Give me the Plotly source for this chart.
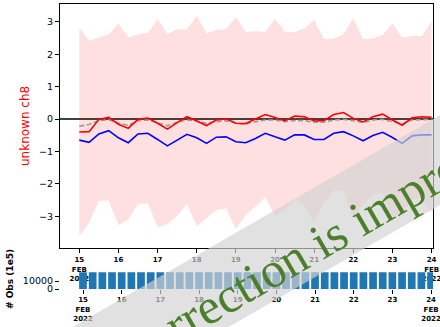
import math
import pandas as pd
import plotly.graph_objects as go

# 6-hourly analysis times, 15-24 Feb 2022
times = pd.date_range("2022-02-15", "2022-02-24", freq="6h")

# Bias statistics for channel 8 (K)
spread_upper = [2.82, 2.42, 2.52, 2.61, 2.95, 2.52, 2.61, 2.66, 3.08, 2.63,
                2.77, 2.77, 3.19, 2.65, 2.75, 2.78, 3.13, 2.69, 2.71, 2.69,
                3.09, 2.69, 2.68, 2.80, 3.06, 2.47, 2.48, 2.62, 3.11, 2.46,
                2.49, 2.59, 2.95, 2.51, 2.57, 2.56, 3.00]
spread_lower = [-3.62, -3.20, -2.54, -2.51, -3.27, -3.10, -2.63, -2.60, -3.34, -3.25,
                -2.99, -2.63, -3.31, -3.05, -2.81, -2.76, -3.39, -2.97, -2.71, -2.41,
                -2.99, -2.81, -2.50, -2.66, -3.18, -2.57, -2.20, -2.22, -3.07, -2.64,
                -2.35, -2.29, -3.01, -2.89, -2.49, -2.42, -2.90]
omb_mean = [-0.40, -0.39, -0.01, 0.05, -0.16, -0.29, -0.01, 0.03, -0.13, -0.31,
            -0.11, 0.07, -0.06, -0.20, -0.03, 0.01, -0.13, -0.14, 0.00, 0.14,
            0.05, -0.06, 0.09, 0.07, -0.06, -0.05, 0.14, 0.20, 0.02, -0.09,
            0.07, 0.15, -0.03, -0.19, 0.04, 0.07, 0.05]
oma_mean = [-0.22, -0.17, -0.05, -0.02, -0.12, -0.20, -0.05, -0.03, -0.11, -0.21,
            -0.10, -0.03, -0.06, -0.13, -0.08, -0.05, -0.13, -0.16, -0.08, -0.03,
            -0.03, -0.08, -0.05, -0.05, -0.10, -0.10, -0.03, -0.01, -0.05, -0.11,
            -0.03, -0.01, -0.08, -0.15, -0.03, -0.01, -0.01]
bias_corr = [-0.65, -0.72, -0.46, -0.36, -0.58, -0.73, -0.46, -0.44, -0.63, -0.83,
             -0.65, -0.47, -0.58, -0.75, -0.56, -0.55, -0.70, -0.73, -0.60, -0.44,
             -0.55, -0.65, -0.49, -0.49, -0.63, -0.63, -0.44, -0.39, -0.52, -0.67,
             -0.51, -0.41, -0.57, -0.75, -0.52, -0.49, -0.49]
obs_count = [20900, 20900, 20900, 20900, 20900, 20900, 20900, 20900, 20900, 20900,
             20900, 20900, 20900, 20900, 20900, 20900, 20900, 20900, 20900, 20900,
             20900, 20900, 20900, 20900, 20900, 20900, 20900, 20900, 20900, 20900,
             20900, 20900, 20900, 20900, 20900, 20900, 20900]

day_ticks = pd.date_range("2022-02-15", "2022-02-24", freq="D")
day_labels = ["15<br>FEB<br>2022", "16", "17", "18", "19", "20", "21", "22", "23",
              "24<br>FEB<br>2022"]

W, H = 440, 327
FONT = "DejaVu Sans"
t0 = pd.Timestamp("2022-02-15")


def px(x, y):
    """Pixel position -> paper coordinates."""
    return x / W, 1 - y / H


def day_offset(d):
    return str(t0 + pd.Timedelta(days=d))


fig = go.Figure()

fig.add_trace(go.Scatter(x=times, y=spread_upper, mode="lines",
                         line=dict(width=0), hoverinfo="skip", showlegend=False))
fig.add_trace(go.Scatter(x=times, y=spread_lower, mode="lines",
                         line=dict(width=0), fill="tonexty",
                         fillcolor="rgba(255,0,0,0.12)", hoverinfo="skip",
                         showlegend=False))
fig.add_trace(go.Scatter(x=times, y=oma_mean, mode="lines",
                         line=dict(color="#9a9a9a", width=1.6, dash="5px,2.5px"),
                         showlegend=False))
fig.add_trace(go.Scatter(x=times, y=bias_corr, mode="lines",
                         line=dict(color="#0000ff", width=1.6), showlegend=False))
fig.add_trace(go.Scatter(x=times, y=omb_mean, mode="lines",
                         line=dict(color="#ff0000", width=1.6), showlegend=False))

fig.add_trace(go.Bar(x=times, y=obs_count, xaxis="x2", yaxis="y2",
                     width=0.2 * 86400000, marker=dict(color="#1f77b4", line=dict(width=0)),
                     showlegend=False))

fig.add_hline(y=0, line=dict(color="black", width=1.5), layer="below")

x0p, _ = px(60, 0)
x1p, _ = px(433, 0)
_, ytop = px(0, 4)
_, ybot = px(0, 248)
_, y2bot = px(0, 289)
_, y2top = px(0, 271.4)

tickfont_x = dict(family=FONT, size=7, color="black", weight="bold")
tickfont_y = dict(family=FONT, size=9.5, color="black")

fig.update_layout(
    width=W, height=H,
    margin=dict(l=0, r=0, t=0, b=0, autoexpand=False),
    paper_bgcolor="white", plot_bgcolor="white",
    xaxis=dict(domain=[x0p, x1p], range=[day_offset(-0.493), day_offset(9.036)],
               type="date", tickvals=day_ticks, ticktext=day_labels,
               tickfont=tickfont_x, ticks="outside", ticklen=4, tickcolor="black",
               ticklabelstandoff=1, ticklabeloverflow="allow", automargin=False,
               showline=True, linecolor="black", linewidth=1, mirror=True,
               showgrid=False, zeroline=False, anchor="y"),
    yaxis=dict(domain=[ybot, ytop], range=[-3.98, 3.55],
               tickvals=[-3, -2, -1, 0, 1, 2, 3],
               ticktext=["\u22123", "\u22122", "\u22121", "0", "1", "2", "3"],
               tickfont=tickfont_y, ticks="outside", ticklen=4, tickcolor="black",
               automargin=False,
               showline=True, linecolor="black", linewidth=1, mirror=True,
               showgrid=False, zeroline=False, anchor="x"),
    xaxis2=dict(domain=[x0p, x1p], range=[day_offset(-0.595), day_offset(9.05)],
                type="date", tickvals=day_ticks, ticktext=day_labels,
                tickfont=tickfont_x, ticks="outside", ticklen=4, tickcolor="black",
                ticklabelstandoff=0, ticklabeloverflow="allow", automargin=False,
                showline=False, showgrid=False, zeroline=False, anchor="y2"),
    yaxis2=dict(domain=[y2bot, y2top], range=[0, 22000],
                tickvals=[0, 10000], ticktext=["0", "10000"],
                tickfont=tickfont_y, ticks="outside", ticklen=4, tickcolor="black",
                automargin=False,
                showline=False, showgrid=False, zeroline=False, anchor="x2"),
)

# Axis titles
ax, ay = px(25, 126)
fig.add_annotation(x=ax, y=ay, xref="paper", yref="paper", text="unknown ch8",
                   textangle=-90, showarrow=False, xanchor="center", yanchor="middle",
                   font=dict(family=FONT, size=12, color="#ff0000"))
ax, ay = px(10, 279)
fig.add_annotation(x=ax, y=ay, xref="paper", yref="paper", text="# Obs (1e5)",
                   textangle=-90, showarrow=False, xanchor="center", yanchor="middle",
                   font=dict(family=FONT, size=9, color="black", weight="bold"))

# Diagonal watermark band with its caption
ang = math.radians(30)
cx, cy = 284, 250
L, h = 650, 39
d = (math.cos(ang), -math.sin(ang))
n = (math.sin(ang), math.cos(ang))
corners = [
    (cx - L * d[0] - h * n[0], cy - L * d[1] - h * n[1]),
    (cx + L * d[0] - h * n[0], cy + L * d[1] - h * n[1]),
    (cx + L * d[0] + h * n[0], cy + L * d[1] + h * n[1]),
    (cx - L * d[0] + h * n[0], cy - L * d[1] + h * n[1]),
]
path = "M " + " L ".join("{:.4f},{:.4f}".format(*px(x, y)) for x, y in corners) + " Z"
fig.add_shape(type="path", path=path, xref="paper", yref="paper",
              fillcolor="rgba(211,211,211,0.68)", line=dict(width=0), layer="above")

tx, ty = px(287, 261)
fig.add_annotation(x=tx, y=ty, xref="paper", yref="paper",
                   text="Bias correction is improving", textangle=-30,
                   showarrow=False, xanchor="center", yanchor="middle",
                   font=dict(family="Liberation Serif", size=50, color="#4c7f2c"))

fig.write_html("out.html")
